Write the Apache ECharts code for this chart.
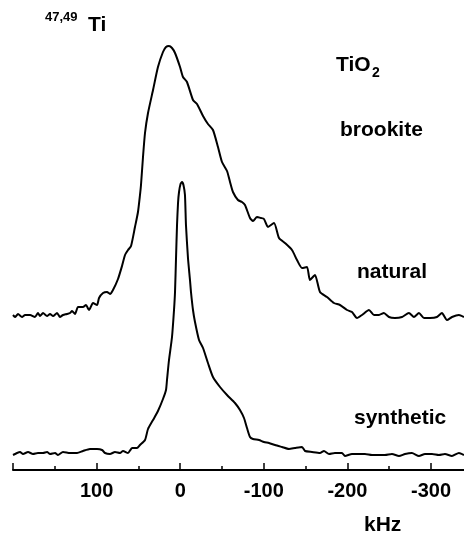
<!DOCTYPE html>
<html>
<head>
<meta charset="utf-8">
<script src="https://cdn.jsdelivr.net/npm/echarts@6/dist/echarts.min.js"></script>
<style>html,body{margin:0;padding:0;background:#fff;}#c{width:464px;height:535px;}</style>
</head>
<body>
<div id="c"></div>
<script>
// frequency axis (kHz) and tick labels
const xMaxKHz = 200;
const xMinKHz = -400;
const tickLabels = [200, 100, 0, -100, -200, -300];
// vertical offsets of the two stacked spectra (arbitrary intensity units)
const naturalOffset = 150;
const syntheticOffset = 15;
// natural brookite spectrum: [kHz, intensity]
const naturalData = [
[200.0,5],[197.6,3],[194.0,6],[189.2,3],[185.6,5],[179.6,5],[173.7,3],[170.1,7],[167.7,4],[164.1,7],
[159.3,4],[155.7,6],[152.1,4],[147.3,7],[143.8,3],[140.2,5],[135.4,6],[131.8,7],[129.4,9],[125.8,6],
[122.2,13],[116.3,13],[112.7,15],[109.1,10],[104.3,17],[99.5,15],[97.1,22],[92.3,27],[87.5,28],[84.0,26],
[80.4,30],[74.4,41],[69.6,54],[66.0,65],[62.4,70],[58.8,74],[54.1,93],[50.5,108],[48.1,125],[46.9,135],
[44.5,163],[42.1,187],[38.5,207],[32.5,230],[26.6,253],[20.6,268],[17.0,273],[13.4,274],[9.8,272],[6.2,267],
[0.2,253],[-3.3,243],[-8.1,238],[-15.3,220],[-20.1,216],[-27.3,204],[-33.2,196],[-39.2,190],[-45.2,173],[-50.0,158],
[-56.0,149],[-59.6,138],[-63.1,128],[-69.1,120],[-73.9,118],[-77.5,115],[-83.5,102],[-87.1,99],[-91.9,103],[-96.6,102],
[-100.2,101],[-105.0,93],[-112.2,97],[-118.2,82],[-125.3,77],[-133.7,70],[-139.7,60],[-145.7,52],[-151.7,53],[-155.2,40],
[-161.2,45],[-167.2,28],[-175.6,23],[-183.9,17],[-191.1,15],[-199.5,10],[-205.5,8],[-211.5,2],[-217.4,5],[-225.8,10],
[-231.8,5],[-237.8,5],[-243.7,7],[-249.7,3],[-256.9,2],[-265.3,3],[-273.6,7],[-279.6,3],[-285.6,7],[-291.6,2],
[-298.8,2],[-307.1,3],[-313.1,7],[-319.1,0],[-325.1,3],[-333.4,5],[-339.4,3]
];
// synthetic brookite spectrum: [kHz, intensity]
const syntheticData = [
[200.0,0],[195.2,2],[191.6,3],[188.0,1],[182.0,3],[176.1,1],[170.1,2],[164.1,2],[159.3,3],[155.7,1],
[149.7,2],[146.2,0],[140.2,3],[131.8,2],[123.4,2],[116.3,4],[107.9,6],[99.5,6],[93.5,5],[89.9,2],
[84.0,1],[78.0,3],[72.0,2],[68.4,4],[62.4,2],[57.6,7],[51.7,7],[48.1,10],[42.1,15],[38.5,26],
[32.5,35],[26.6,44],[20.6,56],[17.0,65],[15.8,75],[13.4,95],[9.8,118],[7.4,145],[6.2,163],[5.0,197],
[3.8,230],[2.6,252],[1.4,263],[-0.4,271],[-2.2,273],[-3.9,270],[-5.7,260],[-6.9,230],[-9.3,197],[-11.7,175],
[-12.9,163],[-15.3,145],[-17.7,133],[-22.5,115],[-27.3,107],[-33.2,92],[-39.2,78],[-47.6,68],[-56.0,60],[-65.5,52],
[-71.5,45],[-76.3,37],[-79.9,27],[-83.5,18],[-87.1,16],[-94.2,15],[-100.2,13],[-106.2,12],[-113.4,10],[-121.7,8],
[-130.1,6],[-137.3,7],[-145.7,8],[-149.3,4],[-157.6,3],[-167.2,2],[-172.0,4],[-178.0,1],[-185.1,2],[-193.5,2],
[-197.1,-1],[-205.5,1],[-213.8,1],[-221.0,1],[-229.4,0],[-237.8,0],[-244.9,0],[-253.3,1],[-261.7,-1],[-268.9,1],
[-277.2,2],[-285.6,-1],[-292.8,1],[-301.2,1],[-309.5,0],[-316.7,1],[-325.1,-1],[-333.4,2],[-339.4,0]
];

const FONT = '"Liberation Sans", Arial, sans-serif';
const chart = echarts.init(document.getElementById('c'), null, {renderer: 'canvas'});

function txt(text, x, y, size) {
  return {type: 'text', x: x, y: y, style: {text: text, fill: '#000', font: 'bold ' + size + 'px ' + FONT, align: 'left', verticalAlign: 'middle'}};
}

chart.setOption({
  animation: false,
  backgroundColor: '#fff',
  grid: {left: 13, width: 501.6, top: 40, bottom: 65, containLabel: false, outerBoundsMode: 'none'},
  xAxis: {
    type: 'value', inverse: true, min: xMinKHz, max: xMaxKHz, interval: 100,
    axisLine: {show: true, lineStyle: {color: '#000', width: 2}},
    axisTick: {show: true, inside: true, length: 7, lineStyle: {color: '#000', width: 1.5}},
    minorTick: {show: true, splitNumber: 2, length: 4, lineStyle: {color: '#000', width: 1.5}},
    splitLine: {show: false},
    axisLabel: {
      margin: 11, color: '#000', fontSize: 20, fontWeight: 'bold', fontFamily: FONT, hideOverlap: false,
      showMinLabel: true, showMaxLabel: true,
      formatter: v => (tickLabels.indexOf(v) >= 0 && v !== 200) ? String(v) : ''
    }
  },
  yAxis: {type: 'value', min: 0, max: 430, show: false},
  series: [
    {type: 'line', data: naturalData.map(p => [p[0], p[1] + naturalOffset]), showSymbol: false, smooth: 0.2,
     lineStyle: {color: '#000', width: 2}, silent: true, clip: false},
    {type: 'line', data: syntheticData.map(p => [p[0], p[1] + syntheticOffset]), showSymbol: false, smooth: 0.2,
     lineStyle: {color: '#000', width: 2}, silent: true, clip: false}
  ],
  graphic: [
    txt('47,49', 45, 17, 13),
    txt('Ti', 88, 25, 21),
    txt('TiO', 336, 65, 21),
    txt('2', 372, 73, 14),
    txt('brookite', 340, 130, 21),
    txt('natural', 357, 272, 21),
    txt('synthetic', 354, 418, 21),
    txt('kHz', 364, 525, 21)
  ]
});
</script>
</body>
</html>
